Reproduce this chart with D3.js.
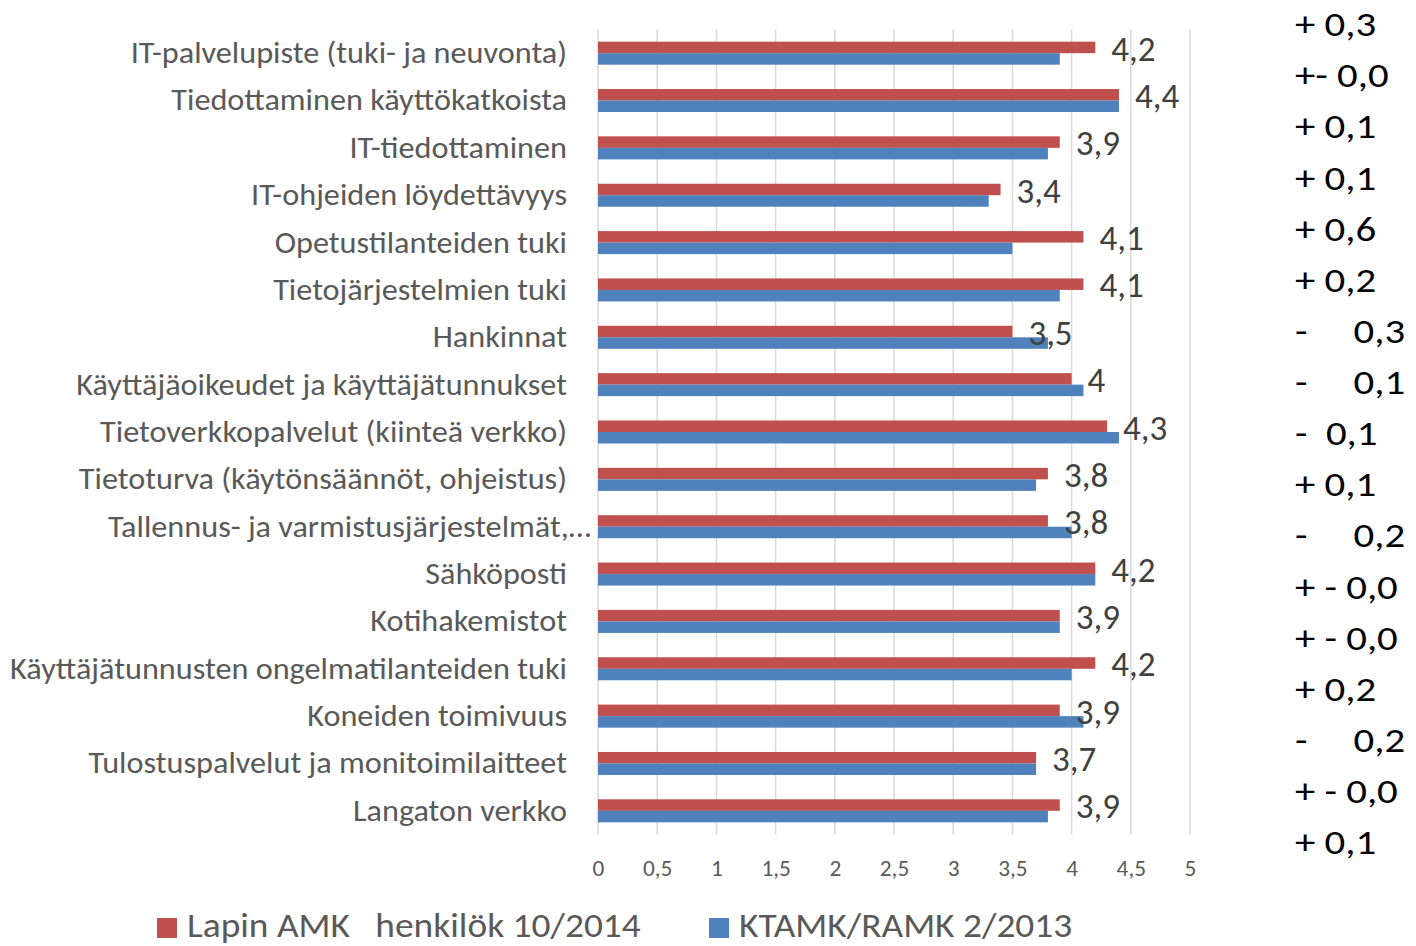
<!DOCTYPE html>
<html>
<head>
<meta charset="utf-8">
<script src="https://cdn.jsdelivr.net/npm/d3@7"></script>
<style>
  body { margin: 0; background: #fff; }
  svg { display: block; }
</style>
</head>
<body>
<svg id="chart"></svg>
<script>
// categories, top to bottom
const categories = [
  "IT-palvelupiste (tuki- ja neuvonta)",
  "Tiedottaminen käyttökatkoista",
  "IT-tiedottaminen",
  "IT-ohjeiden löydettävyys",
  "Opetustilanteiden tuki",
  "Tietojärjestelmien tuki",
  "Hankinnat",
  "Käyttäjäoikeudet ja käyttäjätunnukset",
  "Tietoverkkopalvelut (kiinteä verkko)",
  "Tietoturva (käytönsäännöt, ohjeistus)",
  "Tallennus- ja varmistusjärjestelmät,…",
  "Sähköposti",
  "Kotihakemistot",
  "Käyttäjätunnusten ongelmatilanteiden tuki",
  "Koneiden toimivuus",
  "Tulostuspalvelut ja monitoimilaitteet",
  "Langaton verkko"
]

// Lapin AMK henkilöstö 10/2014
const lapinValues = [4.2, 4.4, 3.9, 3.4, 4.1, 4.1, 3.5, 4.0, 4.3, 3.8, 3.8, 4.2, 3.9, 4.2, 3.9, 3.7, 3.9]
// KTAMK/RAMK 2/2013
const ktamkValues = [3.9, 4.4, 3.8, 3.3, 3.5, 3.9, 3.8, 4.1, 4.4, 3.7, 4.0, 4.2, 3.9, 4.0, 4.1, 3.7, 3.8]

// change column on the right, as typed in the original
const changes = [
  "+ 0,3", "+- 0,0", "+ 0,1", "+ 0,1", "+ 0,6", "+ 0,2",
  "-     0,3", "-     0,1", "-  0,1", "+ 0,1", "-     0,2",
  "+ - 0,0", "+ - 0,0", "+ 0,2", "-     0,2", "+ - 0,0", "+ 0,1"
]

const xTicks = [0, 0.5, 1, 1.5, 2, 2.5, 3, 3.5, 4, 4.5, 5]

const seriesNames = ["Lapin AMK   henkilök 10/2014", "KTAMK/RAMK 2/2013"]
const seriesColors = ["#C0504D", "#4F81BD"]

const W = 1416, H = 946
const font = "Calibri, Carlito, 'Liberation Sans', sans-serif"
const grey = "#595959"

//comma as decimal separator like the original
const fmt = v => String(v).replace(".", ",")

const svg = d3.select("#chart").attr("width", W).attr("height", H)

const xScale = d3.scaleLinear().domain([0, 5]).range([598, 1190])
const yScale = d3.scaleBand().domain(categories).range([29.5, 834.5])
    .paddingInner(0.514).paddingOuter(0.257)
const ySub = d3.scaleBand().domain([0, 1]).range([0, yScale.bandwidth()])

// gridlines
svg.append("g")
    .selectAll("line")
    .data(xTicks)
    .enter()
    .append("line")
        .attr("x1", d => xScale(d)).attr("x2", d => xScale(d))
        .attr("y1", 29.5).attr("y2", 834.5)
        .attr("stroke", "#D9D9D9")
        .attr("stroke-width", 1.5)

// x axis tick labels
let xAxis = d3.axisBottom(xScale).tickValues(xTicks).tickFormat(fmt).tickSize(0)
const axisG = svg.append("g")
    .attr("transform", "translate(0,857)")
    .call(xAxis)
axisG.select(".domain").remove()
axisG.selectAll("text")
    .attr("transform", "scale(1.06,1)")
    .attr("font-family", font)
    .attr("font-size", 22)
    .attr("fill", grey)

// bars
const rows = categories.map((c, i) => ({cat: c, vals: [lapinValues[i], ktamkValues[i]], change: changes[i]}))

const groups = svg.append("g")
    .selectAll("g")
    .data(rows)
    .enter()
    .append("g")
        .attr("transform", d => `translate(0,${yScale(d.cat)})`)

groups.selectAll("rect")
    .data(d => d.vals)
    .enter()
    .append("rect")
        .attr("x", xScale(0))
        .attr("y", (v, j) => ySub(j))
        .attr("width", v => xScale(v) - xScale(0))
        .attr("height", ySub.bandwidth())
        .attr("fill", (v, j) => seriesColors[j])

// data labels on the red series
groups.append("text")
    .attr("x", d => xScale(d.vals[0]) + 16)
    .attr("y", ySub(0) + ySub.bandwidth() / 2)
    .attr("dy", "0.38em")
    .attr("font-family", font)
    .attr("font-size", 35)
    .attr("fill", "#404040")
    .text(d => fmt(d.vals[0]))

// category labels
groups.append("text")
    .attr("transform", d => `translate(${d.cat.endsWith("…") ? 591 : 567},${yScale.bandwidth() / 2}) scale(1.04,1)`)
    .attr("dy", "0.32em")
    .attr("text-anchor", "end")
    .attr("font-family", font)
    .attr("font-size", 31)
    .attr("fill", grey)
    .text(d => d.cat)

// change column
const yChange = d3.scalePoint().domain(d3.range(changes.length)).range([25, 843])
svg.append("g")
    .selectAll("text")
    .data(changes)
    .enter()
    .append("text")
        .attr("transform", (d, i) => `translate(1295,${yChange(i)}) scale(1.2,1)`)
        .attr("dy", "0.33em")
        .attr("font-family", font)
        .attr("font-size", 34)
        .attr("fill", "#000")
        .style("white-space", "pre")
        .text(d => d)

// legend
const legendX = [157, 709]
const legend = svg.append("g")
    .selectAll("g")
    .data(seriesNames)
    .enter()
    .append("g")
        .attr("transform", (d, i) => `translate(${legendX[i]},926)`)
legend.append("rect")
    .attr("x", 0).attr("y", -8)
    .attr("width", 20).attr("height", 20)
    .attr("fill", (d, i) => seriesColors[i])
legend.append("text")
    .attr("transform", "translate(30,0) scale(1.1,1)")
    .attr("dy", "0.33em")
    .attr("font-family", font)
    .attr("font-size", 34)
    .attr("fill", grey)
    .style("white-space", "pre")
    .text(d => d)
</script>
</body>
</html>
